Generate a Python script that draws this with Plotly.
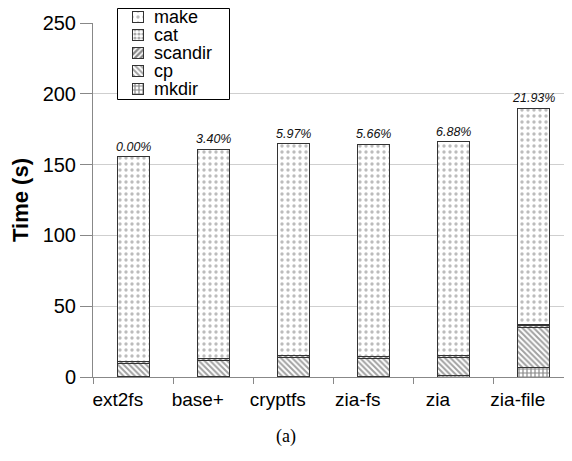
import plotly.graph_objects as go

categories = ["ext2fs", "base+", "cryptfs", "zia-fs", "zia", "zia-file"]
totals = [155.6, 160.9, 164.9, 164.4, 166.3, 189.7]
mkdir = [0.4, 0.4, 0.5, 0.5, 1.0, 7.0]
cp = [9.3, 11.4, 13.4, 12.7, 13.0, 28.0]
scandir = [1.2, 1.2, 1.2, 1.2, 1.2, 1.5]
cat = [0.3, 0.3, 0.3, 0.3, 0.3, 0.5]
make = [t - a - b - c - d for t, a, b, c, d in zip(totals, mkdir, cp, scandir, cat)]
overhead = ["0.00%", "3.40%", "5.97%", "5.66%", "6.88%", "21.93%"]

BAR_SHIFT = 0.2
xpos = [i + BAR_SHIFT for i in range(len(categories))]

# bottom-up stacking order
series = [
    ("mkdir", mkdir, dict(shape="+", fgcolor="#111", bgcolor="white", size=4, solidity=0.5)),
    ("cp", cp, dict(shape="\\", fgcolor="#444", bgcolor="white", size=4, solidity=0.5)),
    ("scandir", scandir, dict(shape="/", fgcolor="#111", bgcolor="white", size=4, solidity=0.6)),
    ("cat", cat, dict(shape=".", fgcolor="#555", bgcolor="white", size=4, solidity=0.5)),
    ("make", make, dict(shape=".", fgcolor="#7a7a7a", bgcolor="white", size=6, solidity=0.25)),
]

fig = go.Figure()
for name, vals, pat in series:
    fig.add_trace(go.Bar(
        x=xpos, y=vals, name=name, width=0.4, showlegend=False,
        marker=dict(color="white", pattern=pat, line=dict(color="#333", width=1)),
    ))

for x, t, lab in zip(xpos, totals, overhead):
    fig.add_annotation(x=x, y=t, text=lab, showarrow=False, yanchor="bottom", yshift=1,
                       font=dict(family="Liberation Sans", size=12.5, color="#111", style="italic"))

# ---- hand-made legend box (own small subplot, units = px inside the box) ----
BOX_W, BOX_H = 113, 92
ROW0, ROW_STEP, ICON = 9, 18, 11
ICON_X, TEXT_X = 15, 35
legend_order = list(reversed(series))  # make on top
for k, (name, vals, pat) in enumerate(legend_order):
    yc = ROW0 + k * ROW_STEP
    fig.add_trace(go.Bar(
        x=[ICON], y=[yc], base=[ICON_X], orientation="h", width=ICON,
        xaxis="x2", yaxis="y2", showlegend=False, hoverinfo="skip",
        marker=dict(color="white", pattern=pat, line=dict(color="#333", width=1)),
    ))
    fig.add_annotation(xref="x2", yref="y2", x=TEXT_X, y=yc, text=name, showarrow=False,
                       xanchor="left", yanchor="middle",
                       font=dict(family="Liberation Sans", size=18, color="black"))

fig.add_shape(type="rect", xref="x2", yref="y2", x0=0.5, x1=BOX_W - 0.5, y0=0.5, y1=BOX_H - 0.5,
              line=dict(color="black", width=1), fillcolor="white", layer="below")

fig.add_annotation(xref="paper", yref="paper", x=0.409, y=-0.1626, text="(a)", showarrow=False,
                   yanchor="middle",
                   font=dict(family="Liberation Serif", size=18, color="black"))

# page body has an 8px margin: figure drawn at (8,8)
W, H = 564, 453
ML, MR, MT, MB = 85, 7, 0, 84
paper_w = W - ML - MR
paper_h = H - MT - MB

def px_x(xw):
    return (xw - 8 - ML) / paper_w

def px_y(yw):
    return 1 - (yw - 8 - MT) / paper_h

fig.update_layout(
    width=W, height=H,
    margin=dict(l=ML, r=MR, t=MT, b=MB, autoexpand=False),
    barmode="stack",
    plot_bgcolor="white", paper_bgcolor="white",
    font=dict(family="Liberation Sans", color="black"),
    showlegend=False,
    xaxis=dict(range=[-0.31, 5.59], tickvals=list(range(len(categories))), ticktext=categories,
               ticks="", showline=True, linecolor="#888", linewidth=1, showgrid=False,
               tickfont=dict(size=19), zeroline=False, tickangle=0, ticklabelstandoff=5,
               minor=dict(tick0=0.69, dtick=1, ticks="outside", ticklen=6, tickcolor="#888", showgrid=False)),
    yaxis=dict(range=[0, 250], dtick=50, ticks="outside", ticklen=12, tickcolor="#888",
               domain=[0, px_y(23)],
               showline=True, linecolor="#888", linewidth=1, gridcolor="#cfcfcf",
               tickfont=dict(size=20), zeroline=False,
               title=dict(text="<b>Time (s)</b>", font=dict(size=22), standoff=12)),
    xaxis2=dict(domain=[px_x(117), px_x(117 + BOX_W)], range=[0, BOX_W], anchor="y2",
                visible=False, fixedrange=True),
    yaxis2=dict(domain=[px_y(8 + BOX_H), px_y(8)], range=[BOX_H, 0], anchor="x2",
                visible=False, fixedrange=True),
)

fig.write_html("out.html")
